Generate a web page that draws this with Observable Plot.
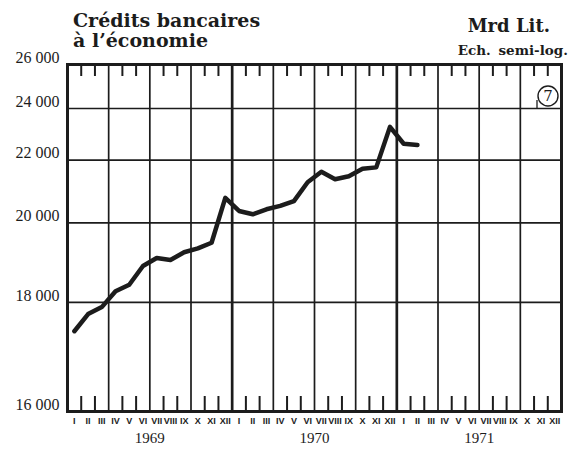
<!DOCTYPE html>
<html>
<head>
<meta charset="utf-8">
<script src="https://cdn.jsdelivr.net/npm/d3@7"></script>
<script src="https://cdn.jsdelivr.net/npm/@observablehq/plot@0.6"></script>
<style>
  html, body { margin: 0; padding: 0; background: #fff; }
  #wrap { position: relative; width: 570px; height: 451px; overflow: hidden; }
  .t { position: absolute; color: #1c1c1c; font-family: "DejaVu Serif", serif; font-weight: bold; white-space: nowrap; }
</style>
</head>
<body>
<div id="wrap">
  <div class="t" style="left:73px; top:10px; font-size:19px; line-height:20px;">Crédits bancaires<br>à l’économie</div>
  <div class="t" style="right:20px; top:16px; font-size:18px; line-height:20px;">Mrd Lit.</div>
  <div class="t" style="right:2px; top:42px; font-size:13.5px; line-height:16px; word-spacing:3px;">Ech. semi-log.</div>
</div>
<script>
// Month labels (Roman numerals) and years
const monthLabels = ["I","II","III","IV","V","VI","VII","VIII","IX","X","XI","XII"];
const years = [1969, 1970, 1971];
// Monthly credit values, Jan 1969 – Feb 1971 (Mrd Lit.)
const credits = [17400, 17750, 17900, 18250, 18400, 18850, 19050, 19000, 19200, 19300, 19450, 20750,
                 20350, 20250, 20400, 20500, 20650, 21250, 21600, 21350, 21450, 21700, 21750, 23250,
                 22600, 22550];
// Y tick labels
const yTicks = [16000, 18000, 20000, 22000, 24000, 26000];

const W = 570, H = 451, mL = 67, mR = 9, mT = 64, mB = 40;
const innerH = H - mT - mB;
const C = 11500; // offset of the semi-log scale
const lo = Math.log(yTicks[0] - C), hi = Math.log(yTicks[yTicks.length - 1] - C);
const yFine = d3.range(yTicks[0], yTicks[yTicks.length - 1] + 1, 250);
const pix = v => (H - mB) - (Math.log(v - C) - lo) / (hi - lo) * innerH;

const nMonths = years.length * 12;
const data = credits.map((v, i) => ({m: i + 0.5, v}));
const boundaries = d3.range(1, nMonths);
const monthTicks = boundaries.filter(b => b % 3 !== 0);
const quarterLines = boundaries.filter(b => b % 3 === 0 && b % 12 !== 0);
const yearLines = boundaries.filter(b => b % 12 === 0);
const monthCenters = d3.range(nMonths).map(i => i + 0.5);
const ink = "#1c1c1c";

const badge = (index, scales, values, dim) => {
  const g = d3.create("svg:g");
  const cx = dim.width - dim.marginRight - 13, cy = dim.marginTop + 32;
  g.append("line").attr("x1", cx - 11).attr("x2", cx - 11).attr("y1", cy + 4).attr("y2", scales.y(24000))
    .attr("stroke", ink).attr("stroke-width", 1.3);
  g.append("circle").attr("cx", cx).attr("cy", cy).attr("r", 10)
    .attr("fill", "white").attr("stroke", ink).attr("stroke-width", 1.4);
  g.append("text").attr("x", cx).attr("y", cy).attr("dy", "0.36em").attr("text-anchor", "middle")
    .attr("font-family", "DejaVu Serif, serif").attr("font-size", 15).attr("fill", ink).text("7");
  return g.node();
};

const chart = Plot.plot({
  width: W, height: H,
  marginLeft: mL, marginRight: mR, marginTop: mT, marginBottom: mB,
  style: {background: "transparent", color: ink, fontFamily: "Liberation Serif, serif"},
  x: {domain: [0, nMonths], axis: null},
  y: {type: "linear", domain: yFine, range: yFine.map(pix), axis: null},
  marks: [
    Plot.ruleY(yTicks.slice(1, -1), {stroke: ink, strokeWidth: 1.7}),
    Plot.ruleX(quarterLines, {stroke: ink, strokeWidth: 1.7}),
    Plot.ruleX(yearLines, {stroke: ink, strokeWidth: 2.7}),
    Plot.ruleX(monthTicks, {stroke: ink, strokeWidth: 2, insetBottom: innerH - 12}),
    Plot.ruleX(monthTicks, {stroke: ink, strokeWidth: 2, insetTop: innerH - 15}),
    Plot.frame({stroke: ink, strokeWidth: 3}),
    Plot.line(data, {x: "m", y: "v", stroke: ink, strokeWidth: 4.5, strokeLinejoin: "round", strokeLinecap: "round"}),
    badge,
    Plot.axisY(yTicks, {label: null, tickSize: 0, tickPadding: 8, dy: -7, fontSize: 16, fontFamily: "Liberation Serif, serif",
      tickFormat: d => d3.format(",")(d).replace(",", " ")}),
    Plot.axisX(monthCenters, {label: null, tickSize: 0, tickPadding: 6, fontSize: 9, fontWeight: 700,
      fontFamily: "Liberation Sans Narrow, Liberation Sans, sans-serif",
      stroke: ink, strokeWidth: 0.5,
      tickFormat: d => monthLabels[Math.floor(d) % 12]}),
    Plot.text(years, {x: (d, i) => i * 12 + 6, frameAnchor: "bottom", dy: 31, fontSize: 15,
      fontFamily: "Liberation Serif, serif", text: d => String(d)})
  ]
});
chart.style.position = "absolute";
chart.style.left = "0px";
chart.style.top = "0px";
document.getElementById("wrap").prepend(chart);
</script>
</body>
</html>
